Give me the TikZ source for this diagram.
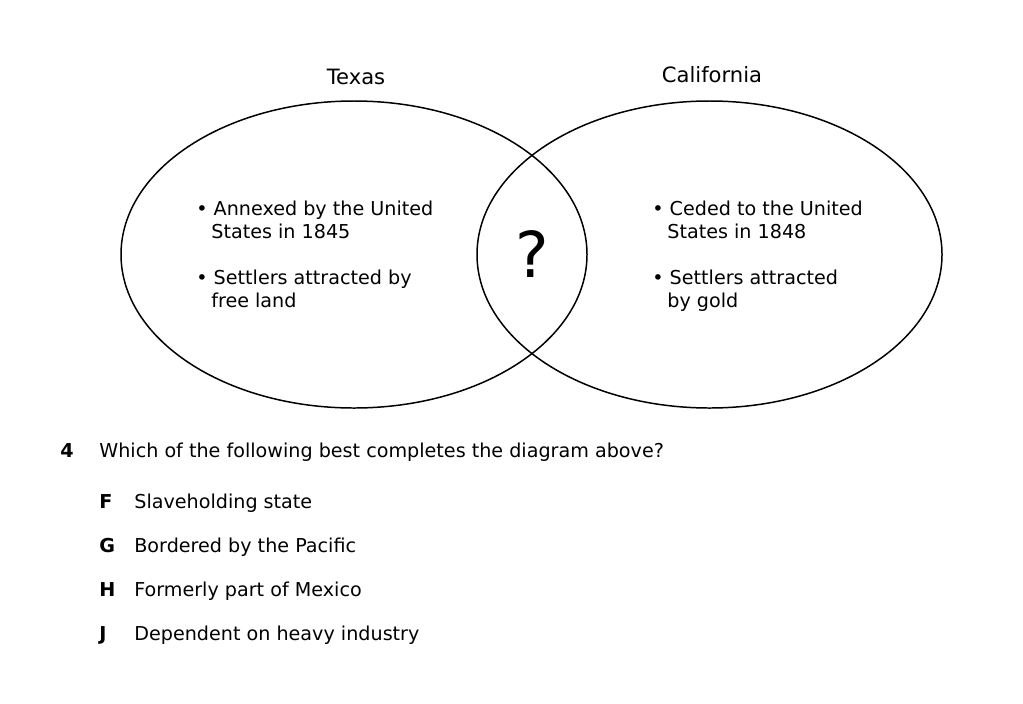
\documentclass[tikz,border=0pt]{standalone}
\usepackage{fontspec}
\setmainfont{DejaVu Sans}
\usetikzlibrary{positioning}

\tikzset{
  venn/.style={draw, line width=0.85pt},
  txt/.style={anchor=base west, inner sep=0pt, font=\fontsize{10.9}{13}\selectfont},
  ttl/.style={anchor=base, inner sep=0pt, font=\fontsize{12}{14}\selectfont},
}

\begin{document}
\begin{tikzpicture}[x=0.02cm, y=-0.02cm]
        \useasboundingbox (0,0) rectangle (1023,703);

        % the two circles
        \draw[venn] (354,254.5) ellipse (233 and 153.5);
        \draw[venn] (709.5,254.5) ellipse (232.5 and 153.5);

        \node[ttl] (texas) at (356,84) {Texas};
        \node[ttl] (calif) at (712,82) {California};
        \node[anchor=base, inner sep=0pt, font=\fontsize{36}{40}\selectfont] (quest) at (532,277) {?};

        % Texas side
        \node[txt] (texA) at (196,215) {\textbullet\ Annexed by the United};
        \node[txt] (texB) at (211,238) {States in 1845};
        \node[txt] (texC) at (196,284) {\textbullet\ Settlers attracted by};
        \node[txt] (texD) at (211,307) {free land};

        % California side
        \node[txt] (calA) at (652,215) {\textbullet\ Ceded to the United};
        \node[txt] (calB) at (667,238) {States in 1848};
        \node[txt] (calC) at (652,284) {\textbullet\ Settlers attracted};
        \node[txt] (calD) at (667,307) {by gold};

        % question
        \node[txt, font=\fontsize{10.9}{13}\bfseries] (num) at (60,457) {4};
        \node[txt] (stem) at (99,457) {Which of the following best completes the diagram above?};

        \foreach \lbl/\ans/\yy in {F/Slaveholding state/508, G/Bordered by the Pacific/552,
          H/Formerly part of Mexico/596, J/Dependent on heavy industry/640} {
          \node[txt, font=\fontsize{10.9}{13}\bfseries] (opt\lbl) at (99,\yy) {\lbl};
          \node[txt] (ans\lbl) at (134,\yy) {\ans};
        }

      \end{tikzpicture}
\end{document}
